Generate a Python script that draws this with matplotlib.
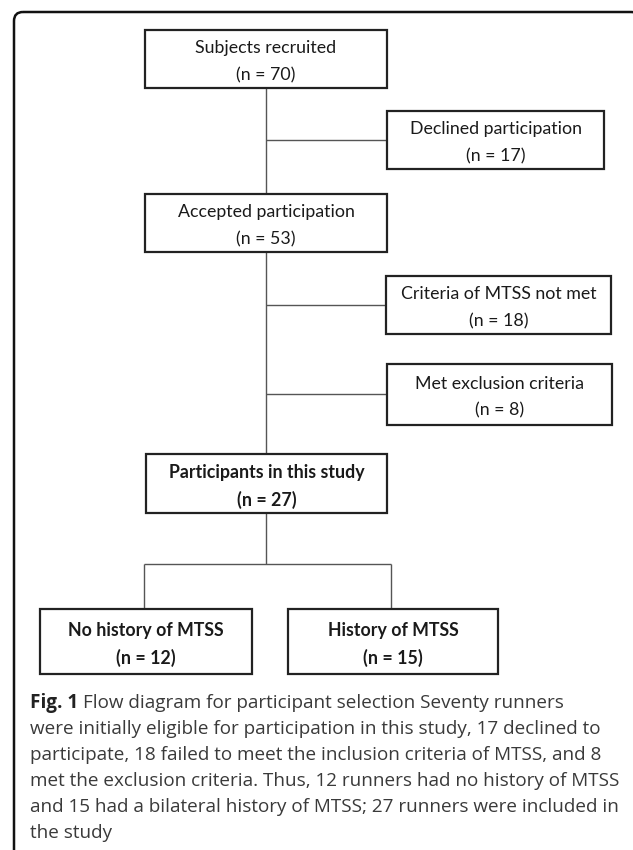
import matplotlib
matplotlib.use("Agg")
import matplotlib.pyplot as plt
from matplotlib.patches import Rectangle, FancyBboxPatch

# ---- data ----
box_labels = ["Subjects recruited", "Declined participation", "Accepted participation",
              "Criteria of MTSS not met", "Met exclusion criteria",
              "Participants in this study", "No history of MTSS", "History of MTSS"]
box_counts = [70, 17, 53, 18, 8, 27, 12, 15]
box_bold = [False, False, False, False, False, True, True, True]

caption_label = "Fig. 1"
caption_lines = [
    "Flow diagram for participant selection Seventy runners",
    "were initially eligible for participation in this study, 17 declined to",
    "participate, 18 failed to meet the inclusion criteria of MTSS, and 8",
    "met the exclusion criteria. Thus, 12 runners had no history of MTSS",
    "and 15 had a bilateral history of MTSS; 27 runners were included in",
    "the study",
]

# ---- layout (pixel coordinates: x0, x1, y0, y1) ----
box_pos = [
    (145, 387, 30, 88),
    (387, 604, 111, 169),
    (145, 387, 194, 252),
    (386, 611, 276, 334),
    (387, 612, 364, 425),
    (146, 387, 454, 513),
    (40, 252, 609, 674),
    (288, 498, 609, 674),
]
connectors = [
    ((266, 266), (88, 194)),
    ((266, 387), (140, 140)),
    ((266, 266), (252, 454)),
    ((266, 386), (305, 305)),
    ((266, 387), (394, 394)),
    ((266, 266), (513, 564)),
    ((144, 391), (564, 564)),
    ((144, 144), (564, 609)),
    ((391, 391), (564, 609)),
]

W, H = 633, 850
fig = plt.figure(figsize=(W / 100, H / 100), dpi=100)
ax = fig.add_axes([0, 0, 1, 1])
ax.set_xlim(0, W)
ax.set_ylim(H, 0)
ax.axis("off")

# outer frame
frame = FancyBboxPatch((14, 12), 640 - 14, 900 - 12,
                       boxstyle="round,pad=0,rounding_size=9",
                       fill=False, ec="#111111", lw=1.8, clip_on=True)
ax.add_patch(frame)

for (xs, ys) in connectors:
    ax.plot(xs, ys, color="#555555", lw=1.0, solid_capstyle="butt")

box_font = "Lato"
for lab, n, b, (x0, x1, y0, y1) in zip(box_labels, box_counts, box_bold, box_pos):
    ax.add_patch(Rectangle((x0, y0), x1 - x0, y1 - y0, fill=True, fc="white",
                           ec="#222222", lw=1.6, zorder=3))
    cx = (x0 + x1) / 2
    cy = (y0 + y1) / 2
    w = "bold" if b else "normal"
    ax.text(cx, cy - 11, lab, ha="center", va="center", fontsize=12.8,
            family=box_font, fontweight=w, color="#1a1a1a", zorder=4)
    ax.text(cx, cy + 16, f"(n = {n})", ha="center", va="center", fontsize=12.8,
            family=box_font, fontweight=w, color="#1a1a1a", zorder=4)

# caption
cap_font = "Open Sans"
cap_x = 30
cap_y0 = 703
cap_dy = 26
cap_fs = 13.6
fig.canvas.draw()
r = fig.canvas.get_renderer()
t = ax.text(cap_x, cap_y0, caption_label, ha="left", va="center", fontsize=cap_fs,
            family=cap_font, fontweight="bold", color="#222222")
bb = t.get_window_extent(renderer=r)
inv = ax.transData.inverted()
x_end = inv.transform((bb.x1, bb.y0))[0]
for i, line in enumerate(caption_lines):
    x = x_end + 5 if i == 0 else cap_x
    ax.text(x, cap_y0 + i * cap_dy, line, ha="left", va="center", fontsize=cap_fs,
            family=cap_font, color="#3a3a3a")

fig.savefig("out.png", dpi=100)
